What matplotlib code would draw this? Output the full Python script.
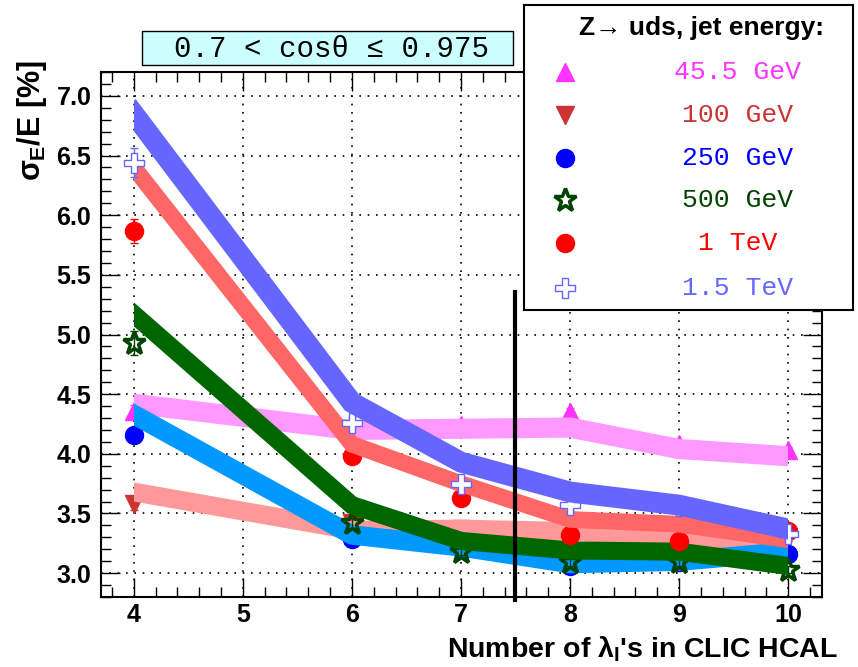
import matplotlib
matplotlib.use("Agg")
import matplotlib.pyplot as plt
from matplotlib.patches import Rectangle
from matplotlib.ticker import MultipleLocator, FormatStrFormatter

plt.rcParams['mathtext.fontset'] = 'custom'
plt.rcParams['mathtext.rm'] = 'Liberation Sans:bold'
plt.rcParams['mathtext.it'] = 'Liberation Sans:bold'
plt.rcParams['mathtext.bf'] = 'Liberation Sans:bold'
plt.rcParams['font.family'] = ['Liberation Sans', 'DejaVu Sans']

SANS = ['Liberation Sans', 'DejaVu Sans']
MONO = ['Liberation Mono', 'DejaVu Sans Mono']

# number of interaction lengths in the HCAL
n_lambda = [4, 6, 7, 8, 9, 10]
labels = ["45.5 GeV", "100 GeV", "250 GeV", "500 GeV", "1 TeV", "1.5 TeV"]

# measured jet energy resolution sigma_E/E [%]
res_45 = [4.36, 4.15, 4.24, 4.35, 4.08, 4.03]
res_100 = [3.58, 3.42, 3.37, 3.30, 3.25, 3.30]
res_250 = [4.16, 3.29, 3.20, 3.06, 3.09, 3.16]
res_500 = [4.93, 3.42, 3.18, 3.09, 3.09, 3.03]
res_1000 = [5.87, 3.98, 3.63, 3.32, 3.27, 3.35]
res_1500 = [6.44, 4.26, 3.75, 3.57, 3.56, 3.33]

err_45 = [0.05, 0.03, 0.03, 0.03, 0.03, 0.03]
err_100 = [0.05, 0.03, 0.03, 0.03, 0.03, 0.03]
err_250 = [0.05, 0.03, 0.03, 0.03, 0.03, 0.03]
err_500 = [0.10, 0.04, 0.03, 0.03, 0.03, 0.03]
err_1000 = [0.10, 0.04, 0.04, 0.04, 0.04, 0.04]
err_1500 = [0.12, 0.05, 0.05, 0.04, 0.04, 0.04]

# reference curves drawn as wide bands
band_45 = [4.42, 4.20, 4.21, 4.22, 4.04, 3.98]
band_100 = [3.68, 3.36, 3.37, 3.35, 3.30, 3.25]
band_250 = [4.33, 3.32, 3.22, 3.08, 3.10, 3.18]
band_500 = [5.17, 3.57, 3.27, 3.19, 3.18, 3.06]
band_1000 = [6.40, 4.08, 3.75, 3.45, 3.41, 3.28]
band_1500 = [6.85, 4.43, 3.93, 3.68, 3.57, 3.37]

cut_position = 7.5

series = [
    (res_45, err_45, band_45, dict(marker='^', mc='#ff33ff', fc='#ff33ff', ms=13, mew=1, bc='#ff99ff', blw=14.5)),
    (res_100, err_100, band_100, dict(marker='v', mc='#cc3333', fc='#cc3333', ms=13, mew=1, bc='#ff9999', blw=13.5)),
    (res_250, err_250, band_250, dict(marker='o', mc='#0000ff', fc='#0000ff', ms=13, mew=1, bc='#0099ff', blw=14)),
    (res_500, err_500, band_500, dict(marker='*', mc='#004400', fc='none', ms=17, mew=2.5, bc='#006600', blw=13)),
    (res_1000, err_1000, band_1000, dict(marker='o', mc='#ff0000', fc='#ff0000', ms=13, mew=1, bc='#ff6666', blw=12)),
    (res_1500, err_1500, band_1500, dict(marker='P', mc='#6666ff', fc='white', ms=14, mew=1, bc='#6666ff', blw=15)),
]

W, H = 858, 667
fig = plt.figure(figsize=(W / 100, H / 100), dpi=100)
ax = fig.add_axes([101 / W, 1 - 597 / H, 721 / W, 525 / H])
ax.set_xlim(3.7, 10.31)
ax.set_ylim(2.8, 7.2)

clip = Rectangle((4, 0), 6, 10, transform=ax.transData)
z = 3
for res, err, band, st in series:
    ax.errorbar(n_lambda, res, yerr=err, fmt='none', ecolor=st['mc'], elinewidth=1,
                capsize=3, zorder=z)
    ax.plot(n_lambda, res, linestyle='none', marker=st['marker'], ms=st['ms'],
            mfc=st['fc'], mec=st['mc'], mew=st['mew'], zorder=z + 0.5)
    line, = ax.plot(n_lambda, band, color=st['bc'], lw=st['blw'],
                    solid_capstyle='projecting', solid_joinstyle='miter', zorder=z + 1)
    line.set_clip_path(clip)
    z += 2

ax.plot([cut_position, cut_position], [2.775, 5.355], color='black', lw=3,
        clip_on=False, zorder=z + 1)

ax.xaxis.set_major_locator(MultipleLocator(1))
ax.xaxis.set_minor_locator(MultipleLocator(0.2))
ax.yaxis.set_major_locator(MultipleLocator(0.5))
ax.yaxis.set_minor_locator(MultipleLocator(0.1))
ax.yaxis.set_major_formatter(FormatStrFormatter('%.1f'))
ax.tick_params(which='both', direction='in', top=True, right=True, width=1)
ax.tick_params(which='major', length=14, pad=4)
ax.tick_params(which='minor', length=7)
for lab in ax.get_xticklabels() + ax.get_yticklabels():
    lab.set_fontfamily(SANS)
    lab.set_fontweight('bold')
    lab.set_fontsize(18)
ax.tick_params(axis='y', pad=7)
ax.grid(True, which='major', color='black', linestyle=(0, (1, 4)), linewidth=1.2)
ax.set_axisbelow(True)
for sp in ax.spines.values():
    sp.set_linewidth(1.5)

# axis titles
fig.text(838 / W, 1 - 658 / H, r"Number of $\lambda_{I}$'s in CLIC HCAL", ha='right',
         va='baseline', fontsize=20.5, fontweight='bold', family=SANS)
fig.text(32 / W, 1 - 60 / H, r"$\sigma_{E}$/E [%]", ha='center', va='top', rotation=90,
         fontsize=22, fontweight='bold', family=SANS)

# angular range box
fig.patches.append(Rectangle((142 / W, 1 - 65 / H), 371 / W, 34 / H, transform=fig.transFigure,
                             facecolor='#ccffff', edgecolor='black', lw=1, zorder=5))
fig.text(332 / W, 1 - 49 / H, "0.7 < cos\u03b8 \u2264 0.975", ha='center', va='center',
         fontsize=21, family=MONO, zorder=6)

# legend
lax = fig.add_axes([524 / W, 1 - 310 / H, 329 / W, 305 / H], zorder=10)
lax.set_xlim(0, 1)
lax.set_ylim(0, 1)
lax.set_xticks([])
lax.set_yticks([])
lax.set_facecolor('white')
for sp in lax.spines.values():
    sp.set_linewidth(1.5)
lax.text(0.541, 0.925, "Z\u2192 uds, jet energy:", ha='center', va='center',
         fontsize=19, fontweight='bold', family=SANS)
row_y = [0.780, 0.639, 0.498, 0.361, 0.220, 0.072]
for (res, err, band, st), lab, yy in zip(series, labels, row_y):
    lax.plot([0.1246], [yy], linestyle='none', marker=st['marker'], ms=st['ms'],
             mfc=st['fc'], mec=st['mc'], mew=st['mew'])
    lax.text(0.650, yy, lab, ha='center', va='center', fontsize=19, color=st['mc'],
             family=MONO)

fig.savefig("out.png", dpi=100)
